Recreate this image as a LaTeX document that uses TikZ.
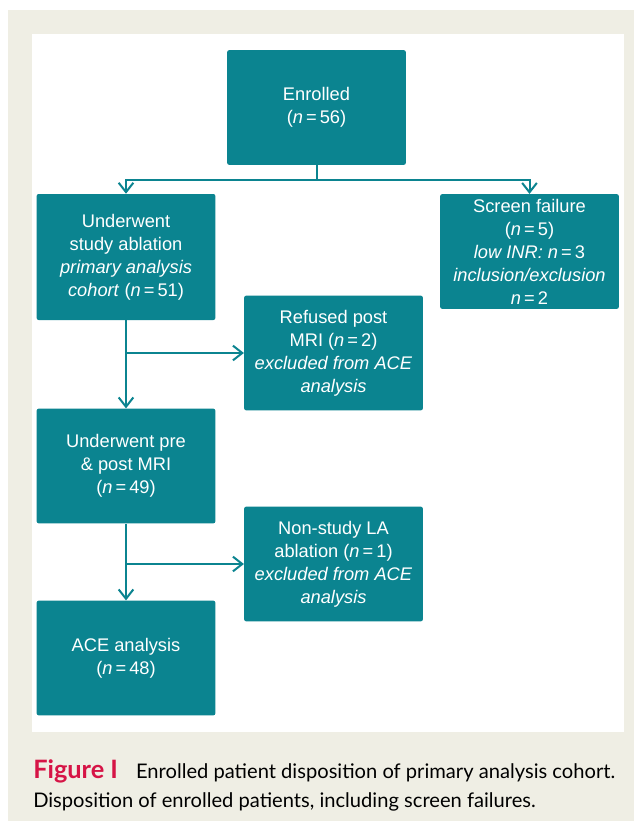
\documentclass[tikz,border=0pt]{standalone}
\usepackage{fontspec}
\setmainfont{Liberation Sans}
\newfontfamily\capfont{Lato}
\usetikzlibrary{arrows.meta}
\definecolor{boxteal}{RGB}{11,132,144}
\definecolor{panelbeige}{RGB}{239,238,228}
\definecolor{figred}{RGB}{214,20,70}
\newcommand{\boxfont}{\fontsize{13.7}{17.25}\selectfont}
\tikzstyle{stage} = [rectangle, rounded corners=1.5pt, minimum width=134pt, minimum height=86pt, inner sep=0pt, text centered, align=center, fill=boxteal, text=white, font=\boxfont, execute at begin node={\rule{0pt}{19pt}}]
\tikzstyle{arrow} = [draw=boxteal, line width=1.5pt, -{Straight Barb[length=7pt,width=11pt]}]

\begin{document}
\begin{tikzpicture}[x=0.75pt, y=-0.75pt]
\useasboundingbox (0,0) rectangle (634,821);
\fill[panelbeige] (8,10) rectangle (634,821);
\fill[white] (32,34) rectangle (624,732);

\node (enrolled) [stage] at (316.5,107.5) {Enrolled\\(\textit{n}\,=\,56)};
\node (ablation) [stage, minimum height=94.5pt] at (126,257) {Underwent\\study ablation\\\textit{primary analysis}\\\textit{cohort} (\textit{n}\,=\,51)};
\node (screen) [stage] at (529.5,251.5) {Screen failure\\(\textit{n}\,=\,5)\\\textit{low INR: n}\,=\,3\\\textit{inclusion/exclusion}\\\textit{n}\,=\,2};
\node (refused) [stage] at (333.5,353) {Refused post\\MRI (\textit{n}\,=\,2)\\\textit{excluded from ACE}\\\textit{analysis}};
\node (mri) [stage] at (126,466) {Underwent pre\\\& post MRI\\(\textit{n}\,=\,49)};
\node (nonstudy) [stage] at (333.5,564) {Non-study LA\\ablation (\textit{n}\,=\,1)\\\textit{excluded from ACE}\\\textit{analysis}};
\node (ace) [stage] at (126,658) {ACE analysis\\(\textit{n}\,=\,48)};

\coordinate (split) at (316.5,180);
\draw [arrow] (enrolled) -- (split) -| (ablation);
\draw [arrow] (split) -| (screen);
\draw [arrow] (ablation) -- (mri);
\draw [arrow] (ablation.south |- refused.west) -- (refused.west);
\draw [arrow] (mri) -- (ace);
\draw [arrow] (mri.south |- nonstudy.west) -- (nonstudy.west);

\node (caption) [anchor=north west, align=left, inner sep=0pt, font=\capfont\fontsize{15.1}{21.75}\selectfont] at (33,759)
  {{\color{figred}\fontsize{19}{21.75}\selectfont\bfseries Figure I}\hspace{0.9em}Enrolled patient disposition of primary analysis cohort.\\Disposition of enrolled patients, including screen failures.};
\end{tikzpicture}
\end{document}
